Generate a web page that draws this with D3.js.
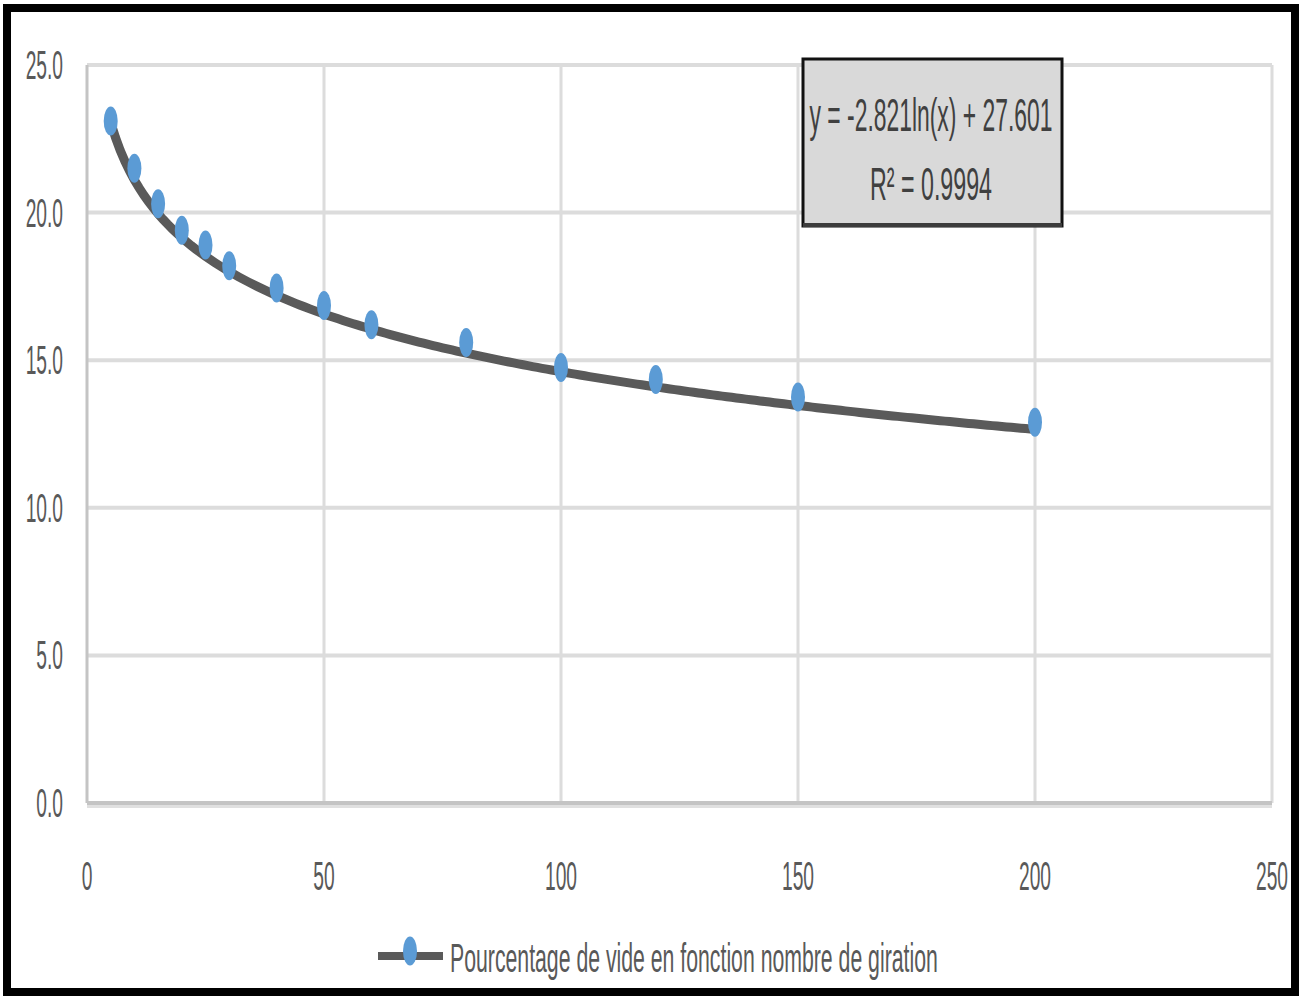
<!DOCTYPE html>
<html>
<head>
<meta charset="utf-8">
<script src="https://cdn.jsdelivr.net/npm/d3@7"></script>
<style>
  body { margin: 0; background: #fff; }
  svg text { font-family: "Liberation Sans", Arial, sans-serif; fill: #595959; }
</style>
</head>
<body>
<div id="chart-area"></div>
<script>
// data
var girations = [5, 10, 15, 20, 25, 30, 40, 50, 60, 80, 100, 120, 150, 200];
var vide = [23.1, 21.5, 20.3, 19.4, 18.9, 18.2, 17.45, 16.85, 16.2, 15.6, 14.75, 14.35, 13.75, 12.9];
var trendCoef = [-2.821, 27.601];
var xTicks = [0, 50, 100, 150, 200, 250];
var yTicks = [0, 5, 10, 15, 20, 25];
var seriesName = "Pourcentage de vide en fonction nombre de giration";
var eqLabel = "y = -2.821ln(x) + 27.601";
var r2Label = "R\u00b2 = 0.9994";

var width = 1302, height = 998;
var margin = {top: 65, right: 30, bottom: 195, left: 87};

var svg = d3.select("#chart-area").append("svg")
            .attr("width", width)
            .attr("height", height);

var x = d3.scaleLinear().domain([0, 250]).range([margin.left, width - margin.right]);
var y = d3.scaleLinear().domain([0, 25]).range([height - margin.bottom, margin.top]);

// outer frame
svg.append("rect")
   .attr("x", 7).attr("y", 8)
   .attr("width", width - 14).attr("height", height - 14)
   .attr("fill", "none")
   .attr("stroke", "#000")
   .attr("stroke-width", 8);

// gridlines
svg.append("g").selectAll("line.h")
   .data(yTicks.filter(function(d){ return d > 0; }))
   .enter().append("line")
   .attr("x1", x(0)).attr("x2", x(250))
   .attr("y1", function(d){ return y(d); })
   .attr("y2", function(d){ return y(d); })
   .attr("stroke", "#dcdcdc")
   .attr("stroke-width", 4);

svg.append("g").selectAll("line.v")
   .data(xTicks)
   .enter().append("line")
   .attr("x1", function(d){ return x(d); })
   .attr("x2", function(d){ return x(d); })
   .attr("y1", y(25)).attr("y2", y(0))
   .attr("stroke", function(d){ return d === 0 ? "#c4c4c4" : "#dcdcdc"; })
   .attr("stroke-width", 3);

// x axis line
svg.append("line")
   .attr("x1", x(0)).attr("x2", x(250))
   .attr("y1", y(0) + 2).attr("y2", y(0) + 2)
   .attr("stroke", "#e0e0e0").attr("stroke-width", 6);
svg.append("line")
   .attr("x1", x(0)).attr("x2", x(250))
   .attr("y1", y(0)).attr("y2", y(0))
   .attr("stroke", "#c4c4c4").attr("stroke-width", 4);

// condensed labels: squeeze text horizontally
function squeeze(sel, sx) {
  sel.each(function() {
    var t = d3.select(this);
    var px = +t.attr("x"), py = +t.attr("y");
    t.attr("x", 0).attr("y", 0)
     .attr("transform", "translate(" + px + "," + py + ") scale(" + sx + ",1)");
  });
}
// squeeze to a target width
function fitTo(sel, w) {
  sel.each(function() {
    var len = this.getComputedTextLength();
    d3.select(this).call(squeeze, w / len);
  });
}

svg.append("g").selectAll("text")
   .data(yTicks)
   .enter().append("text")
   .attr("x", 63)
   .attr("y", function(d){ return y(d) + 14; })
   .attr("text-anchor", "end")
   .attr("font-size", "40px")
   .text(function(d){ return d3.format(".1f")(d); })
   .call(squeeze, 0.48);

svg.append("g").selectAll("text")
   .data(xTicks)
   .enter().append("text")
   .attr("x", function(d){ return x(d); })
   .attr("y", 890)
   .attr("text-anchor", "middle")
   .attr("font-size", "40px")
   .text(function(d){ return d; })
   .call(squeeze, 0.48);

// trendline
var trend = d3.range(girations[0], girations[girations.length - 1] + 0.5, 1);
var line = d3.line()
             .x(function(d){ return x(d); })
             .y(function(d){ return y(trendCoef[0] * Math.log(d) + trendCoef[1]); });

svg.append("path")
   .datum(trend)
   .attr("d", line)
   .attr("fill", "none")
   .attr("stroke", "#5a5a5a")
   .attr("stroke-width", 9);

// markers
svg.append("g").selectAll("ellipse")
   .data(girations)
   .enter().append("ellipse")
   .attr("cx", function(d){ return x(d); })
   .attr("cy", function(d, i){ return y(vide[i]); })
   .attr("rx", 7)
   .attr("ry", 14.5)
   .attr("fill", "#5b9bd5");

// equation box
var box = svg.append("g");
box.append("rect")
   .attr("x", 803).attr("y", 59)
   .attr("width", 259).attr("height", 167)
   .attr("fill", "#d9d9d9")
   .attr("stroke", "#111")
   .attr("stroke-width", 3);
box.append("line")
   .attr("x1", 803).attr("x2", 1062)
   .attr("y1", 225).attr("y2", 225)
   .attr("stroke", "#3c3c3c").attr("stroke-width", 4);
box.append("text")
   .attr("x", 931).attr("y", 131)
   .attr("text-anchor", "middle")
   .attr("font-size", "46px")
   .style("fill", "#404040")
   .text(eqLabel)
   .call(fitTo, 243);
box.append("text")
   .attr("x", 931).attr("y", 200)
   .attr("text-anchor", "middle")
   .attr("font-size", "46px")
   .style("fill", "#404040")
   .text(r2Label)
   .call(fitTo, 122);

// legend
var leg = svg.append("g");
leg.append("line")
   .attr("x1", 378).attr("x2", 443)
   .attr("y1", 956).attr("y2", 956)
   .attr("stroke", "#5a5a5a").attr("stroke-width", 8);
leg.append("ellipse")
   .attr("cx", 410).attr("cy", 951)
   .attr("rx", 7).attr("ry", 14.5)
   .attr("fill", "#5b9bd5");
leg.append("text")
   .attr("x", 450).attr("y", 972)
   .attr("font-size", "40px")
   .text(seriesName)
   .call(fitTo, 488);
</script>
</body>
</html>
